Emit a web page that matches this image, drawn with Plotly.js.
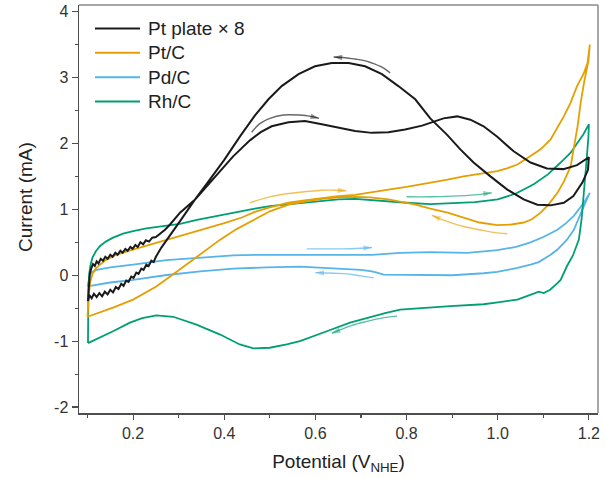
<!DOCTYPE html>
<html>
<head>
<meta charset="utf-8">
<script src="https://cdn.plot.ly/plotly-3.0.1.min.js"></script>
<style>
  html, body { margin: 0; padding: 0; background: #ffffff; }
  #chart { width: 605px; height: 478px; }
</style>
</head>
<body>
<div id="chart"></div>
<script>
// Cyclic voltammograms: potential (V vs NHE) and current (mA)

const seriesNames = ['Pt plate \u00d7 8', 'Pt/C', 'Pd/C', 'Rh/C'];

// Pt plate (current x 8): anodic sweep, then cathodic sweep
const ptPlateFwdV = [0.101, 0.103, 0.105, 0.108, 0.112, 0.116, 0.120, 0.124, 0.129, 0.134, 0.139, 0.144,
  0.150, 0.155, 0.161, 0.166, 0.172, 0.177, 0.183, 0.188, 0.194, 0.199, 0.205, 0.210,
  0.216, 0.222, 0.228, 0.235, 0.242, 0.250, 0.259, 0.270, 0.281, 0.303, 0.336, 0.362,
  0.390, 0.419, 0.440, 0.457, 0.480, 0.504, 0.541, 0.577, 0.614, 0.651, 0.687, 0.724,
  0.760, 0.797, 0.834, 0.860, 0.881, 0.911, 0.940, 0.969, 0.999, 1.035, 1.072, 1.108,
  1.144, 1.174, 1.197, 1.200];
const ptPlateFwdI = [-0.39, -0.10, 0.02, 0.10, 0.17, 0.14, 0.21, 0.18, 0.25, 0.22, 0.28, 0.25,
  0.31, 0.28, 0.34, 0.31, 0.37, 0.34, 0.40, 0.37, 0.43, 0.40, 0.46, 0.43,
  0.50, 0.47, 0.53, 0.51, 0.57, 0.58, 0.63, 0.69, 0.77, 0.95, 1.15, 1.35,
  1.58, 1.80, 1.94, 2.05, 2.17, 2.26, 2.32, 2.34, 2.29, 2.24, 2.19, 2.16,
  2.17, 2.21, 2.27, 2.33, 2.38, 2.41, 2.36, 2.26, 2.10, 1.88, 1.71, 1.62,
  1.61, 1.67, 1.77, 1.79];
const ptPlateRevV = [1.198, 1.186, 1.166, 1.145, 1.116, 1.087, 1.057, 1.021, 0.984, 0.947, 0.918, 0.889,
  0.852, 0.819, 0.782, 0.746, 0.709, 0.673, 0.636, 0.599, 0.563, 0.526, 0.497, 0.467,
  0.435, 0.400, 0.365, 0.336, 0.303, 0.280, 0.262, 0.250, 0.245, 0.240, 0.234, 0.229,
  0.223, 0.218, 0.212, 0.207, 0.201, 0.196, 0.190, 0.185, 0.179, 0.174, 0.168, 0.162,
  0.156, 0.150, 0.144, 0.138, 0.132, 0.126, 0.120, 0.114, 0.109, 0.104, 0.101];
const ptPlateRevI = [1.60, 1.41, 1.20, 1.10, 1.06, 1.07, 1.15, 1.30, 1.50, 1.71, 1.91, 2.13,
  2.38, 2.67, 2.87, 3.05, 3.17, 3.22, 3.22, 3.17, 3.05, 2.87, 2.67, 2.42,
  2.11, 1.75, 1.42, 1.15, 0.82, 0.60, 0.42, 0.28, 0.20, 0.22, 0.14, 0.16,
  0.08, 0.10, 0.02, 0.04, -0.04, -0.02, -0.10, -0.08, -0.16, -0.13, -0.21, -0.18,
  -0.26, -0.22, -0.29, -0.25, -0.32, -0.27, -0.33, -0.28, -0.35, -0.30, -0.39];

// Pt/C
const ptcFwdV = [0.100, 0.101, 0.103, 0.106, 0.111, 0.118, 0.127, 0.140, 0.160, 0.190, 0.230, 0.270,
  0.310, 0.350, 0.400, 0.440, 0.467, 0.500, 0.541, 0.580, 0.614, 0.650, 0.687, 0.720,
  0.760, 0.800, 0.852, 0.890, 0.925, 0.960, 0.999, 1.020, 1.043, 1.072, 1.094, 1.116,
  1.130, 1.145, 1.160, 1.174, 1.188, 1.197, 1.202];
const ptcFwdI = [-0.63, -0.45, -0.27, -0.10, 0.02, 0.10, 0.16, 0.23, 0.30, 0.37, 0.45, 0.53,
  0.61, 0.68, 0.79, 0.88, 0.96, 1.03, 1.10, 1.14, 1.17, 1.20, 1.22, 1.26,
  1.30, 1.34, 1.40, 1.45, 1.50, 1.54, 1.58, 1.62, 1.68, 1.81, 1.91, 2.06,
  2.22, 2.41, 2.62, 2.87, 3.05, 3.22, 3.50];
const ptcRevV = [1.199, 1.190, 1.182, 1.175, 1.167, 1.160, 1.145, 1.131, 1.110, 1.094, 1.075, 1.057,
  1.030, 0.999, 0.960, 0.925, 0.890, 0.852, 0.820, 0.797, 0.760, 0.720, 0.687, 0.650,
  0.614, 0.580, 0.541, 0.500, 0.467, 0.427, 0.391, 0.347, 0.303, 0.251, 0.200, 0.156,
  0.120, 0.100];
const ptcRevI = [3.25, 2.95, 2.62, 2.25, 1.91, 1.65, 1.42, 1.25, 1.06, 0.95, 0.85, 0.80,
  0.77, 0.76, 0.80, 0.87, 0.95, 1.01, 1.07, 1.10, 1.15, 1.18, 1.19, 1.18,
  1.16, 1.12, 1.07, 0.97, 0.85, 0.70, 0.54, 0.31, 0.09, -0.17, -0.37, -0.49,
  -0.58, -0.63];

// Pd/C
const pdcFwdV = [0.100, 0.102, 0.105, 0.110, 0.120, 0.150, 0.200, 0.273, 0.350, 0.420, 0.467, 0.520,
  0.566, 0.614, 0.670, 0.724, 0.786, 0.852, 0.933, 0.999, 1.040, 1.072, 1.100, 1.131,
  1.150, 1.167, 1.189, 1.202];
const pdcFwdI = [-0.17, -0.08, 0.00, 0.05, 0.08, 0.12, 0.16, 0.23, 0.27, 0.30, 0.31, 0.31,
  0.31, 0.30, 0.30, 0.31, 0.34, 0.35, 0.34, 0.38, 0.43, 0.50, 0.58, 0.69,
  0.79, 0.90, 1.10, 1.25];
const pdcRevV = [1.200, 1.189, 1.175, 1.167, 1.152, 1.131, 1.116, 1.090, 1.072, 1.043, 0.999, 0.969,
  0.900, 0.852, 0.800, 0.750, 0.735, 0.724, 0.700, 0.650, 0.566, 0.493, 0.420, 0.347,
  0.270, 0.200, 0.150, 0.100];
const pdcRevI = [1.22, 1.05, 0.82, 0.69, 0.54, 0.39, 0.31, 0.20, 0.16, 0.11, 0.05, 0.03,
  0.00, 0.00, 0.00, 0.01, 0.04, 0.06, 0.08, 0.10, 0.13, 0.12, 0.10, 0.06,
  0.00, -0.07, -0.11, -0.17];

// Rh/C
const rhcFwdV = [0.101, 0.101, 0.102, 0.104, 0.107, 0.111, 0.118, 0.127, 0.140, 0.156, 0.178, 0.200,
  0.229, 0.270, 0.303, 0.340, 0.376, 0.420, 0.467, 0.500, 0.541, 0.580, 0.614, 0.650,
  0.687, 0.720, 0.760, 0.800, 0.852, 0.900, 0.950, 1.000, 1.040, 1.079, 1.110, 1.138,
  1.160, 1.174, 1.188, 1.200];
const rhcFwdI = [-1.03, -0.60, -0.20, 0.04, 0.17, 0.27, 0.36, 0.44, 0.51, 0.57, 0.63, 0.67,
  0.71, 0.75, 0.78, 0.84, 0.89, 0.95, 1.01, 1.05, 1.08, 1.11, 1.13, 1.15,
  1.16, 1.14, 1.12, 1.10, 1.08, 1.09, 1.11, 1.15, 1.24, 1.38, 1.53, 1.71,
  1.86, 2.00, 2.14, 2.29];
const rhcRevV = [1.199, 1.195, 1.190, 1.184, 1.178, 1.165, 1.152, 1.138, 1.131, 1.115, 1.101, 1.090,
  1.079, 1.060, 1.043, 1.000, 0.969, 0.896, 0.823, 0.786, 0.755, 0.727, 0.676, 0.625,
  0.596, 0.566, 0.537, 0.500, 0.464, 0.434, 0.391, 0.339, 0.288, 0.251, 0.220, 0.193,
  0.156, 0.125, 0.101];
const rhcRevI = [2.10, 1.75, 1.30, 0.85, 0.54, 0.30, 0.14, -0.07, -0.12, -0.22, -0.27, -0.25,
  -0.28, -0.33, -0.37, -0.41, -0.44, -0.47, -0.50, -0.52, -0.57, -0.62, -0.72, -0.85,
  -0.92, -1.00, -1.05, -1.10, -1.11, -1.05, -0.90, -0.75, -0.63, -0.61, -0.65, -0.72,
  -0.85, -0.95, -1.03];

// Sweep-direction arrows (last point is the arrow tip)
const ptPlateRevArrowV = [0.764, 0.745, 0.724, 0.705, 0.687, 0.665, 0.640];
const ptPlateRevArrowI = [3.07, 3.16, 3.22, 3.26, 3.28, 3.30, 3.31];
const ptPlateFwdArrowV = [0.460, 0.478, 0.500, 0.530, 0.565, 0.590, 0.608];
const ptPlateFwdArrowI = [2.17, 2.30, 2.38, 2.43, 2.43, 2.41, 2.38];
const ptcFwdArrowV = [0.456, 0.500, 0.541, 0.580, 0.614, 0.645, 0.668];
const ptcFwdArrowI = [1.10, 1.19, 1.24, 1.27, 1.29, 1.29, 1.28];
const ptcRevArrowV = [1.021, 0.990, 0.960, 0.925, 0.900, 0.875, 0.856];
const ptcRevArrowI = [0.63, 0.65, 0.69, 0.74, 0.79, 0.85, 0.91];
const pdcFwdArrowV = [0.581, 0.620, 0.660, 0.700, 0.724];
const pdcFwdArrowI = [0.40, 0.40, 0.40, 0.41, 0.42];
const pdcRevArrowV = [0.728, 0.700, 0.670, 0.640, 0.600];
const pdcRevArrowI = [-0.04, -0.01, 0.02, 0.03, 0.04];
const rhcFwdArrowV = [0.800, 0.852, 0.900, 0.950, 0.987];
const rhcFwdArrowI = [1.19, 1.19, 1.20, 1.22, 1.25];
const rhcRevArrowV = [0.779, 0.745, 0.713, 0.680, 0.654, 0.636];
const rhcRevArrowI = [-0.62, -0.65, -0.70, -0.76, -0.83, -0.88];

// Axis ticks
const xTickVals = [0.2, 0.4, 0.6, 0.8, 1.0, 1.2];
const xTickText = ['0.2', '0.4', '0.6', '0.8', '1.0', '1.2'];
const yTickVals = [-2, -1, 0, 1, 2, 3, 4];
const yTickText = ['-2', '-1', '0', '1', '2', '3', '4'];

// ---------------------------------------------------------------------------
const FONT = 'Liberation Sans, Arial, Helvetica, sans-serif';
const colors = ['#1a1a1a', '#E69F00', '#56B4E9', '#009E73'];
const arrowColors = ['rgba(0,0,0,0.6)', 'rgba(230,159,0,0.65)', 'rgba(86,180,233,0.7)', 'rgba(0,158,115,0.65)'];
const widths = [2, 1.8, 1.8, 1.8];

const loops = [
  [ptPlateFwdV.concat(ptPlateRevV), ptPlateFwdI.concat(ptPlateRevI)],
  [ptcFwdV.concat(ptcRevV), ptcFwdI.concat(ptcRevI)],
  [pdcFwdV.concat(pdcRevV), pdcFwdI.concat(pdcRevI)],
  [rhcFwdV.concat(rhcRevV), rhcFwdI.concat(rhcRevI)]
];

const arrows = [
  [0, ptPlateRevArrowV, ptPlateRevArrowI], [0, ptPlateFwdArrowV, ptPlateFwdArrowI],
  [1, ptcFwdArrowV, ptcFwdArrowI], [1, ptcRevArrowV, ptcRevArrowI],
  [2, pdcFwdArrowV, pdcFwdArrowI], [2, pdcRevArrowV, pdcRevArrowI],
  [3, rhcFwdArrowV, rhcFwdArrowI], [3, rhcRevArrowV, rhcRevArrowI]
];

const traces = [];
const annotations = [];
const shapes = [];

// draw order: Pd/C, Rh/C, Pt/C, Pt plate on top
[2, 3, 1, 0].forEach(k => {
  traces.push({
    type: 'scatter', mode: 'lines', name: seriesNames[k],
    x: loops[k][0], y: loops[k][1],
    line: { color: colors[k], width: widths[k] },
    showlegend: false, hoverinfo: 'skip'
  });
});

// arrow shafts with a filled arrowhead oriented along the last segment
arrows.forEach(([k, v, i]) => {
  const n = v.length;
  traces.push({
    type: 'scatter', mode: 'lines', x: v, y: i,
    line: { color: arrowColors[k], width: 1.4, shape: 'spline' },
    showlegend: false, hoverinfo: 'skip'
  });
  traces.push({
    type: 'scatter', mode: 'markers', x: v.slice(n - 2), y: i.slice(n - 2),
    marker: { symbol: 'arrow', angleref: 'previous', size: [0, 9],
              color: arrowColors[k], line: { width: 0 } },
    showlegend: false, hoverinfo: 'skip'
  });
});

// Plot box in pixels (used for the legend and frame)
const W = 605, H = 478, L = 79, R = 7, T = 5, B = 65;
const pw = W - L - R, ph = H - T - B;
const px = p => (p - L) / pw;
const py = p => (H - B - p) / ph;

// Legend
const legendRows = [28.5, 52.7, 77.2, 101.6];
seriesNames.forEach((name, k) => {
  shapes.push({
    type: 'line', xref: 'paper', yref: 'paper',
    x0: px(95), x1: px(140), y0: py(legendRows[k]), y1: py(legendRows[k]),
    line: { color: colors[k], width: 2 }
  });
  annotations.push({
    xref: 'paper', yref: 'paper', x: px(146), y: py(legendRows[k]),
    xanchor: 'left', yanchor: 'middle', showarrow: false, text: name,
    font: { family: FONT, size: 19, color: '#222' }
  });
});

// top and right frame lines
shapes.push({ type: 'line', xref: 'paper', yref: 'paper', x0: 0, x1: 1, y0: 1, y1: 1,
  line: { color: '#8a8a8a', width: 1.5 } });
shapes.push({ type: 'line', xref: 'paper', yref: 'paper', x0: 1, x1: 1, y0: 0, y1: 1,
  line: { color: '#8a8a8a', width: 1.5 } });

// y-axis title
annotations.push({
  xref: 'paper', yref: 'paper', x: px(25), y: py(197), xanchor: 'center', yanchor: 'middle',
  textangle: -90, showarrow: false, text: 'Current (mA)',
  font: { family: FONT, size: 19, color: '#222' }
});

const layout = {
  width: W, height: H,
  margin: { l: L, r: R, t: T, b: B },
  paper_bgcolor: '#ffffff', plot_bgcolor: '#ffffff',
  font: { family: FONT, color: '#333' },
  showlegend: false,
  xaxis: {
    range: [0.0813, 1.22], showgrid: false, zeroline: false,
    showline: true, linecolor: '#4d4d4d', linewidth: 1.5,
    ticks: 'outside', ticklen: 5, tickwidth: 1.2, tickcolor: '#4d4d4d',
    tickmode: 'array', tickvals: xTickVals, ticktext: xTickText,
    tickfont: { family: FONT, size: 16, color: '#333' },
    minor: { tickmode: 'linear', tick0: 0.1, dtick: 0.2, ticks: 'outside', ticklen: 3, tickwidth: 1.2, tickcolor: '#4d4d4d', showgrid: false },
    title: { text: 'Potential (V<sub>NHE</sub>)', font: { family: FONT, size: 19, color: '#222' }, standoff: 14 }
  },
  yaxis: {
    range: [-2.09, 4.10], showgrid: false, zeroline: false,
    showline: true, linecolor: '#4d4d4d', linewidth: 1.5,
    ticks: 'outside', ticklen: 6, tickwidth: 1.2, tickcolor: '#4d4d4d',
    tickmode: 'array', tickvals: yTickVals, ticktext: yTickText,
    tickfont: { family: FONT, size: 16, color: '#333' },
    minor: { tickmode: 'linear', tick0: 0.5, dtick: 1, ticks: 'outside', ticklen: 3, tickwidth: 1.2, tickcolor: '#4d4d4d', showgrid: false }
  },
  shapes: shapes,
  annotations: annotations
};

Plotly.newPlot('chart', traces, layout, { staticPlot: true, displayModeBar: false }).then(gd => {
  // drop empty placeholder text nodes that Plotly leaves for unused titles
  gd.querySelectorAll('text').forEach(t => {
    if (!t.textContent.trim()) t.remove();
  });
});
</script>
</body>
</html>
